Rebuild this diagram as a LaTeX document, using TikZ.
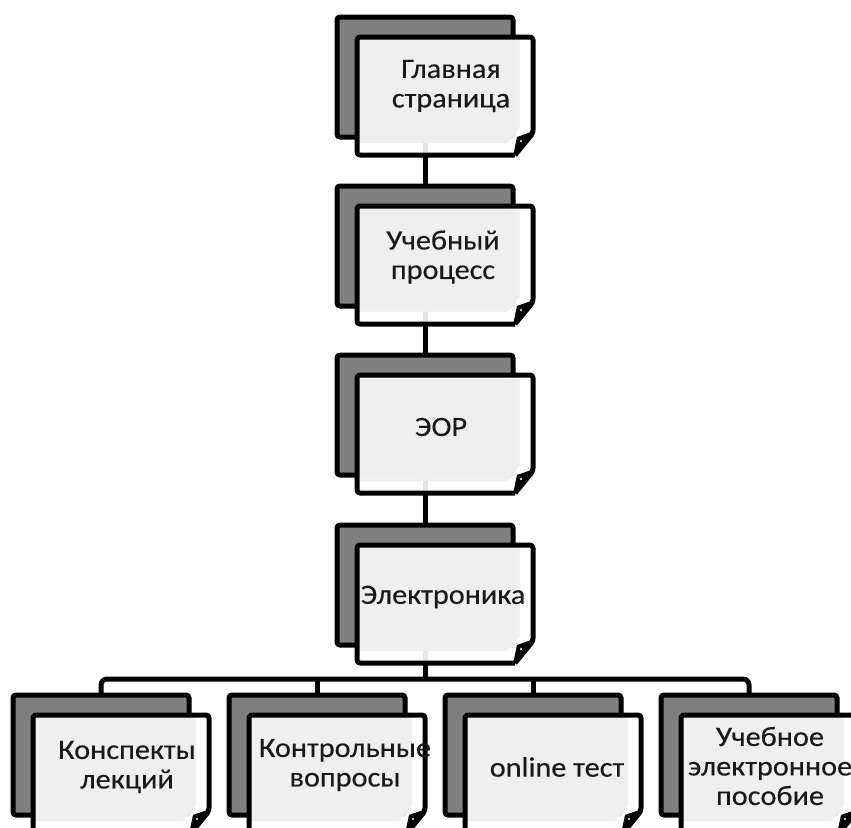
\documentclass[tikz,border=0pt]{standalone}
\usepackage{fontspec}
\setmainfont{Carlito}[FakeStretch=1.08,FakeBold=0.3]
\begin{document}
\begin{tikzpicture}[x=1pt,y=-1pt,
  conn/.style={draw=black,line width=5pt},
  backbox/.style={draw=black,line width=5pt,fill=backgray,rounded corners=3pt,
    minimum width=176pt,minimum height=120pt,inner sep=0pt,outer sep=0pt},
  lbl/.style={align=center,text=black!90,inner sep=0pt,
    font=\fontsize{28}{29.5}\selectfont},
  pagefront/.pic={
    \fill[white,fill opacity=0.9] (0,0) -- (176,0) -- (176,96) -- (158,118) -- (0,118) -- cycle;
    \fill[frontgray,fill opacity=0.9] (0,0) -- (163,0) -- (163,90) -- (150,106) -- (0,106) -- cycle;
    \draw[black,line width=5pt,rounded corners=3pt,line join=round]
      (158,118) -- (0,118) -- (0,0) -- (176,0) -- (176,96) -- (158,118);
    \fill[black] (177,94) -- (160,100) -- (156,119) -- cycle;
    \fill[white] (164,104) circle (1.2pt);
  }]
\definecolor{backgray}{HTML}{7F7F7F}
\definecolor{frontgray}{HTML}{EFEFEF}
\clip (0,0) rectangle (851,827);
\fill[white] (0,0) rectangle (851,827);

% back boxes (vertical chain)
\node[backbox] (b1) at (425,77) {};
\node[backbox] (b2) at (425,246) {};
\node[backbox] (b3) at (425,415) {};
\node[backbox] (b4) at (425,585) {};
% back boxes (bottom row)
\node[backbox] (c1) at (101,755) {};
\node[backbox] (c2) at (317,755) {};
\node[backbox] (c3) at (533,755) {};
\node[backbox] (c4) at (749,755) {};

% connectors
\coordinate (bus) at (425,679);
\draw[conn] (b1.south) -- (b2.north);
\draw[conn] (b2.south) -- (b3.north);
\draw[conn] (b3.south) -- (b4.north);
\draw[conn] (b4.south) -- (bus);
\draw[conn,rounded corners=6pt] (c1.north) |- (bus) -| (c4.north);
\draw[conn] (c2.north) -- (c2.north |- bus);
\draw[conn] (c3.north) -- (c3.north |- bus);

% front pages
\pic at ([shift={(20,20)}]b1.north west) {pagefront};
\pic at ([shift={(20,20)}]b2.north west) {pagefront};
\pic at ([shift={(20,20)}]b3.north west) {pagefront};
\pic at ([shift={(20,20)}]b4.north west) {pagefront};
\pic at ([shift={(20,20)}]c1.north west) {pagefront};
\pic at ([shift={(20,20)}]c2.north west) {pagefront};
\pic at ([shift={(20,20)}]c3.north west) {pagefront};
\pic at ([shift={(20,20)}]c4.north west) {pagefront};

% labels
\node[lbl] (t1) at ([shift={(26,9)}]b1.center) {Главная\\страница};
\node[lbl] (t2) at ([shift={(18,11)}]b2.center) {Учебный\\процесс};
\node[lbl] (t3) at ([shift={(16,12)}]b3.center) {ЭОР};
\node[lbl] (t4) at ([shift={(18,12)}]b4.center) {Электроника};
\node[lbl] (s1) at ([shift={(26,12)}]c1.center) {Конспекты\\лекций};
\node[lbl] (s2) at ([shift={(28,10)}]c2.center) {Контрольные\\вопросы};
\node[lbl] (s3) at ([shift={(24,12)}]c3.center) {online тест};
\node[lbl] (s4) at ([shift={(21,11)}]c4.center) {Учебное\\электронное\\пособие};
\end{tikzpicture}
\end{document}
